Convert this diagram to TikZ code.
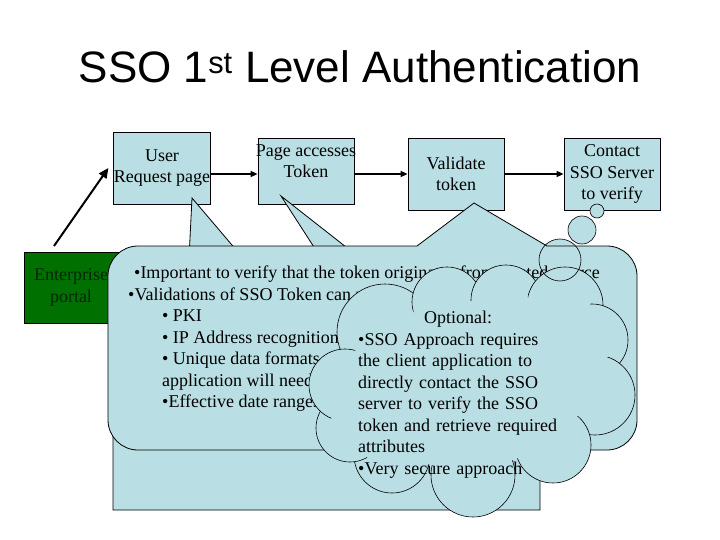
\documentclass[tikz,border=0pt]{standalone}
\usepackage{fontspec}
\setmainfont{Liberation Serif}
\newfontfamily\titlefont{Liberation Sans}
\usetikzlibrary{arrows.meta,calc}
\definecolor{calloutblue}{RGB}{185,222,228}
\definecolor{portalgreen}{RGB}{0,112,0}
\definecolor{portaltext}{RGB}{0,40,0}

\begin{document}
\begin{tikzpicture}[x=1pt, y=-1pt,
    box/.style={draw, line width=0.8pt, fill=calloutblue, align=center, inner sep=0pt, minimum width=96pt, font=\fontsize{18}{21.5}\selectfont},
    portalbox/.style={draw, line width=0.8pt, fill=portalgreen, text=portaltext, align=center, inner sep=0pt, minimum width=94pt, minimum height=71pt, font=\fontsize{18}{21.5}\selectfont},
    flow/.style={-{Triangle[length=7pt,width=6pt]}, line width=1.6pt},
    callout/.style={draw, line width=0.8pt, fill=calloutblue},
    lobe/.style={draw, line width=0.6pt, fill=calloutblue},
    note/.style={align=left, inner sep=0pt, font=\fontsize{18}{21.5}\selectfont}
]
\useasboundingbox (0,0) rectangle (720,540);
\node[anchor=base, inner sep=0pt, font=\titlefont\fontsize{44}{50}\selectfont] (title) at (360,83) {SSO 1\textsuperscript{st} Level Authentication};

% steps of the check
\node[box, minimum height=72pt] (user) at (162,168) {User\\Request page};
\node[box, minimum height=66pt, label={[note, align=center, yshift=10pt]center:Page accesses\\Token}] (page) at (306,171) {};
\node[box, minimum height=72pt] (valid) at (456,174) {Validate\\token};
\node[box, minimum height=72pt] (contact) at (612,174) {Contact\\SSO Server\\to verify};

\draw[flow] (user.east |- valid) -- (page.west |- valid);
\draw[flow] (page.east |- valid) -- (valid.west);
\draw[flow] (valid.east) -- (contact.west);

% callouts
\draw[callout] (113,258) -- (189,258) -- (192,198) -- (243,258) -- (540,258) -- (540,510) -- (113,510) -- cycle;

\node[portalbox] (portal) at (71,287.5) {Enterprise\\portal};
\coordinate (pstart) at (54,246);
\draw[-{Triangle[length=10pt,width=9pt]}, line width=2pt] (pstart) -- ([xshift=-5pt]user.west);

\draw[callout] (321,258) -- (281,196) -- (360,258);
\fill[calloutblue] (560,260) circle[radius=21pt];

\draw[callout] (372,450) [rounded corners=30pt] -- (108,450) -- (108,246) [sharp corners] -- (417,246) -- (474,203) -- (547,246) [rounded corners=30pt] -- (637,246) -- (637,450) -- cycle;
\node[note, anchor=north west] (checks) at (128,266) {\hspace*{6pt}•Important to verify that the token originates from trusted source\\
  •Validations of SSO Token can use:\\
  \hspace*{34pt}• PKI\\
  \hspace*{34pt}• IP Address recognition\\
  \hspace*{34pt}• Unique data formats\\
  \hspace*{34pt}application will need\\
  \hspace*{34pt}•Effective date ranges};

% cloud
\foreach \cx/\cy/\r in {385/332/48, 447/302/35, 506/300/35, 565/305/38, 592/340/36, 595/395/40, 553/445/38, 473/475/42, 392/455/38, 350/428/34, 345/385/36}
  \draw[lobe] (\cx,\cy) circle[radius=\r pt];
\fill[calloutblue] (385,332) -- (447,302) -- (506,300) -- (565,305) -- (592,340) -- (595,395) -- (553,445) -- (473,475) -- (392,455) -- (350,428) -- (345,385) -- cycle;
\foreach \cx/\cy/\r [evaluate=\r as \rr using \r-13] in {385/332/48, 447/302/35, 506/300/35, 565/305/38, 592/340/36, 595/395/40, 553/445/38, 473/475/42, 392/455/38, 350/428/34, 345/385/36}
  \fill[calloutblue] (\cx,\cy) circle[radius=\rr pt];
\node[note, anchor=north west, text width=200pt] (optional) at (358,311) {\hfil Optional:\hfil\\
  •SSO Approach requires\\
  the client application to\\
  directly contact the SSO\\
  server to verify the SSO\\
  token and retrieve required\\
  attributes\\
  •Very secure approach};

\draw[lobe] (597,211) circle[radius=7pt];
\draw[lobe] (582,230) circle[radius=14pt];
\draw[line width=0.6pt] (560,260) circle[radius=21pt];
\end{tikzpicture}
\end{document}
